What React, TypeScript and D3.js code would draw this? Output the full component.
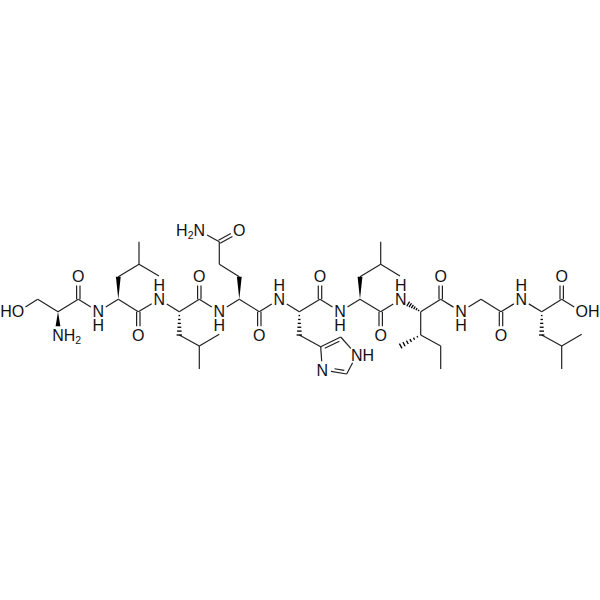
// App.tsx
import { useEffect, useRef } from 'react'
import * as d3 from 'd3'

const SIZE = 600
const INK = '#222222'
const FONT = '"Liberation Sans", Arial, sans-serif'
const FONT_SIZE = 16
const LABEL_GAP = 8.8

type Atom = [string, number, number]

// atom positions, one row per residue
const serine: Atom[] = [
  ['OG1', 18, 311.7], ['CB1', 37.7, 299.3], ['CA1', 58, 311.7], ['N1', 58, 335],
  ['C1', 78.3, 299.3], ['O1', 78.3, 276.7],
]
const leucine2: Atom[] = [
  ['N2', 98.3, 311.7], ['CA2', 118.3, 299.3], ['CB2', 118.3, 276.7], ['CG2', 139, 264.3],
  ['CD2a', 139, 241.7], ['CD2b', 159, 276], ['C2', 138.3, 311.7], ['O2', 138.3, 335],
]
const leucine3: Atom[] = [
  ['N3', 159.3, 299.3], ['CA3', 179.3, 311.7], ['CB3', 179.3, 335], ['CG3', 199.3, 346],
  ['CD3a', 199.3, 369], ['CD3b', 219.3, 334.3], ['C3', 199.3, 299.3], ['O3', 199.3, 276.7],
]
const glutamine: Atom[] = [
  ['N4', 219.3, 311.7], ['CA4', 239.3, 299.3], ['CB4', 239.3, 276.7], ['CG4', 219.3, 264.3],
  ['CD4', 219.3, 241.7], ['OE4', 239.3, 230.7], ['NE4', 199.3, 230.7],
  ['C4', 259.3, 311.7], ['O4', 259.3, 335],
]
const histidine: Atom[] = [
  ['N5', 279.3, 299.3], ['CA5', 299.3, 311.7], ['CB5', 299.3, 335], ['CG5', 320.7, 346.7],
  ['CD5', 340.7, 337], ['NE5', 356.7, 355], ['CE5', 346.7, 374], ['ND5', 322.3, 370],
  ['C5', 320, 299.3], ['O5', 320, 276.7],
]
const leucine6: Atom[] = [
  ['N6', 340, 311.7], ['CA6', 360, 299.3], ['CB6', 360, 276.7], ['CG6', 380.7, 264.3],
  ['CD6a', 380.7, 241.7], ['CD6b', 400, 276], ['C6', 380.7, 311.7], ['O6', 380.7, 335],
]
const isoleucine: Atom[] = [
  ['N7', 400.7, 299.3], ['CA7', 420.7, 311.7], ['CB7', 420.7, 335], ['CM7', 400.7, 346],
  ['CG7', 440.7, 346], ['CD7', 440.7, 369], ['C7', 440.7, 299.3], ['O7', 440.7, 276.7],
]
const glycine: Atom[] = [
  ['N8', 461, 311.7], ['CA8', 481, 299.3], ['C8', 501, 311.7], ['O8', 501, 335],
]
const leucine9: Atom[] = [
  ['N9', 521.3, 299.3], ['CA9', 541.7, 311.7], ['CB9', 541.7, 335], ['CG9', 561.7, 346],
  ['CD9a', 561.7, 369], ['CD9b', 581.7, 334.3], ['C9', 561.7, 299.3], ['O9', 561.7, 276.7],
  ['OXT', 581.7, 311.7],
]

const singleBonds = [
  'OG1-CB1', 'CB1-CA1', 'CA1-C1', 'C1-N2', 'N2-CA2', 'CB2-CG2', 'CG2-CD2a', 'CG2-CD2b', 'CA2-C2',
  'C2-N3', 'N3-CA3', 'CB3-CG3', 'CG3-CD3a', 'CG3-CD3b', 'CA3-C3', 'C3-N4', 'N4-CA4', 'CB4-CG4',
  'CG4-CD4', 'CD4-NE4', 'CA4-C4', 'C4-N5', 'N5-CA5', 'CB5-CG5', 'CD5-NE5', 'NE5-CE5', 'ND5-CG5',
  'CA5-C5', 'C5-N6', 'N6-CA6', 'CB6-CG6', 'CG6-CD6a', 'CG6-CD6b', 'CA6-C6', 'C6-N7', 'CA7-C7',
  'CA7-CB7', 'CB7-CG7', 'CG7-CD7', 'C7-N8', 'N8-CA8', 'CA8-C8', 'C8-N9', 'N9-CA9', 'CB9-CG9',
  'CG9-CD9a', 'CG9-CD9b', 'CA9-C9', 'C9-OXT',
]
const doubleBonds = [
  'C1-O1', 'C2-O2', 'C3-O3', 'CD4-OE4', 'C4-O4', 'C5-O5', 'C6-O6', 'C7-O7', 'C8-O8', 'C9-O9',
]
const ringDoubleBonds = ['CG5-CD5', 'CE5-ND5']
// narrow end first
const wedgeBonds = ['CA1-N1', 'CA2-CB2', 'CA4-CB4', 'CA6-CB6']
const hashBonds = ['CA3-CB3', 'CA5-CB5', 'CA7-N7', 'CB7-CM7', 'CA9-CB9']

// atom, text, how the text hangs on the atom
const labels: [string, string, 'centre' | 'right' | 'left' | 'up' | 'down'][] = [
  ['OG1', 'HO', 'left'], ['N1', 'NH2', 'right'], ['O1', 'O', 'centre'], ['N2', 'N', 'down'],
  ['O2', 'O', 'centre'], ['N3', 'N', 'up'], ['O3', 'O', 'centre'], ['N4', 'N', 'down'],
  ['OE4', 'O', 'centre'], ['NE4', 'H2N', 'left'], ['O4', 'O', 'centre'], ['N5', 'N', 'up'],
  ['NE5', 'NH', 'right'], ['ND5', 'N', 'centre'], ['O5', 'O', 'centre'], ['N6', 'N', 'down'],
  ['O6', 'O', 'centre'], ['N7', 'N', 'up'], ['O7', 'O', 'centre'], ['N8', 'N', 'down'],
  ['O8', 'O', 'centre'], ['N9', 'N', 'up'], ['O9', 'O', 'centre'], ['OXT', 'OH', 'right'],
]

const ringCentre: [number, number] = [336, 357]

const atoms = [
  ...serine, ...leucine2, ...leucine3, ...glutamine, ...histidine,
  ...leucine6, ...isoleucine, ...glycine, ...leucine9,
]

export default function App() {
  const svgRef = useRef<SVGSVGElement>(null)

  useEffect(() => {
    const svg = d3.select(svgRef.current)
    svg.selectAll('*').remove()

    const x = d3.scaleLinear([0, SIZE], [0, SIZE])
    const y = d3.scaleLinear([0, SIZE], [0, SIZE])
    const pos = new Map(atoms.map(([id, ax, ay]) => [id, [x(ax), y(ay)] as [number, number]]))
    const labelled = new Set(labels.map(l => l[0]))
    const line = d3.line()

    // bond ends, pulled back where an atom label sits
    const ends = (bond: string) => {
      const [a, b] = bond.split('-')
      const p = pos.get(a)!
      const q = pos.get(b)!
      const len = Math.hypot(q[0] - p[0], q[1] - p[1])
      const ux = (q[0] - p[0]) / len
      const uy = (q[1] - p[1]) / len
      const s = labelled.has(a) ? LABEL_GAP : 0
      const e = labelled.has(b) ? LABEL_GAP : 0
      return {
        p: [p[0] + ux * s, p[1] + uy * s] as [number, number],
        q: [q[0] - ux * e, q[1] - uy * e] as [number, number],
        ux, uy, len: len - s - e,
      }
    }

    const g = svg.append('g').attr('fill', 'none').attr('stroke', INK).attr('stroke-width', 1.2)

    singleBonds.forEach(bond => {
      const { p, q } = ends(bond)
      g.append('path').attr('d', line([p, q]))
    })

    doubleBonds.forEach(bond => {
      const { p, q, ux, uy } = ends(bond)
      ;[-1.7, 1.7].forEach(off => {
        const nx = -uy * off
        const ny = ux * off
        g.append('path').attr('d', line([[p[0] + nx, p[1] + ny], [q[0] + nx, q[1] + ny]]))
      })
    })

    ringDoubleBonds.forEach(bond => {
      const { p, q, ux, uy } = ends(bond)
      g.append('path').attr('d', line([p, q]))
      // second stroke goes on the ring side and stops short of both ends
      const mx = (p[0] + q[0]) / 2
      const my = (p[1] + q[1]) / 2
      const side = Math.sign(-uy * (ringCentre[0] - mx) + ux * (ringCentre[1] - my))
      const nx = -uy * side * 3.2
      const ny = ux * side * 3.2
      g.append('path').attr('d', line([
        [p[0] + nx + ux * 3, p[1] + ny + uy * 3],
        [q[0] + nx - ux * 3, q[1] + ny - uy * 3],
      ]))
    })

    wedgeBonds.forEach(bond => {
      const { p, q, ux, uy } = ends(bond)
      const w = 2.4
      g.append('path')
        .attr('d', line([p, [q[0] - uy * w, q[1] + ux * w], [q[0] + uy * w, q[1] - ux * w]]) + 'Z')
        .attr('fill', '#000').attr('stroke', 'none')
    })

    hashBonds.forEach(bond => {
      const { p, q, ux, uy, len } = ends(bond)
      d3.range(1, 7).forEach(i => {
        const t = (i / 6) * len
        const w = 0.4 + (i / 6) * 2.3
        const cx = p[0] + ux * t
        const cy = p[1] + uy * t
        g.append('path')
          .attr('d', line([[cx - uy * w, cy + ux * w], [cx + uy * w, cy - ux * w]]))
          .attr('stroke-width', 1.3).attr('stroke', '#000')
      })
    })

    const text = svg.append('g')
      .attr('font-family', FONT).attr('font-size', FONT_SIZE).attr('fill', '#111')

    const charWidth = (c: string) => (c === 'O' ? 12.4 : 11.55)

    labels.forEach(([atom, label, hang]) => {
      const [ax, ay] = pos.get(atom)!
      const base = ay + 5.7
      if (hang === 'centre' || hang === 'up' || hang === 'down') {
        text.append('text').attr('x', ax).attr('y', base).attr('text-anchor', 'middle').text(label)
        if (hang !== 'centre') {
          text.append('text')
            .attr('x', ax).attr('y', base + (hang === 'up' ? -13.7 : 13.7))
            .attr('text-anchor', 'middle').text('H')
        }
        return
      }
      const key = hang === 'right' ? label[0] : label[label.length - 1]
      const half = charWidth(key) / 2
      const el = text.append('text')
        .attr('x', hang === 'right' ? ax - half : ax + half)
        .attr('y', base)
        .attr('text-anchor', hang === 'right' ? 'start' : 'end')
      label.split('').forEach((c, i) => {
        const isSub = /\d/.test(c)
        el.append('tspan')
          .attr('font-size', isSub ? 10.5 : FONT_SIZE)
          .attr('dy', isSub ? 3 : i > 0 && /\d/.test(label[i - 1]) ? -3 : 0)
          .text(c)
      })
    })
  }, [])

  return (
    <svg
      ref={svgRef}
      width={SIZE}
      height={SIZE}
      style={{ position: 'absolute', left: 0, top: 0, background: '#fff' }}
    />
  )
}
